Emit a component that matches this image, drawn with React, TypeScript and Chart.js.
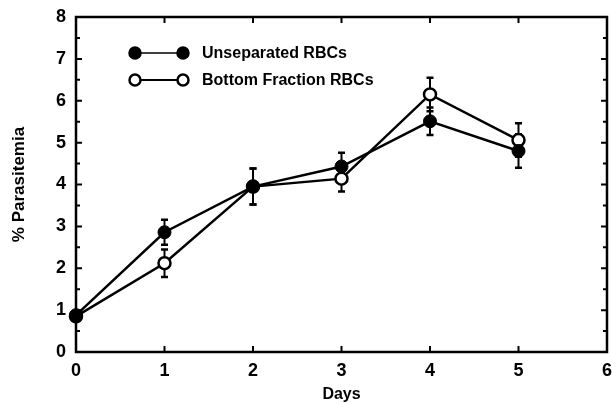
import React, { useEffect, useRef } from "react";
import { Chart, registerables } from "chart.js";
Chart.register(...registerables);

const days = [0, 1, 2, 3, 4, 5];
const unseparated = [0.88, 2.86, 3.95, 4.43, 5.51, 4.8];
const unseparatedErr = [0, 0.3, 0.43, 0.33, 0.33, 0.4];
const bottomFraction = [0.85, 2.12, 3.95, 4.14, 6.15, 5.06];
const bottomErr = [0, 0.33, 0.43, 0.31, 0.4, 0.4];
const seriesNames = ["Unseparated RBCs", "Bottom Fraction RBCs"];
const xTicks = [0, 1, 2, 3, 4, 5, 6];
const yTicks = [0, 1, 2, 3, 4, 5, 6, 7, 8];
const yMinorTicks = [0.5, 1.5, 2.5, 3.5, 4.5, 5.5, 6.5, 7.5];

const FONT = "'Liberation Sans', Arial, sans-serif";

const errorBarPlugin = {
  id: "errorBars",
  beforeDatasetsDraw(chart: any) {
    const ctx = chart.ctx;
    const xs = chart.scales.x;
    const ys = chart.scales.y;
    const errs = [unseparatedErr, bottomErr];
    const vals = [unseparated, bottomFraction];
    ctx.save();
    ctx.strokeStyle = "#000";
    ctx.lineCap = "butt";
    for (let s = 0; s < 2; s++) {
      for (let i = 0; i < days.length; i++) {
        if (!errs[s][i]) continue;
        const x = xs.getPixelForValue(days[i]);
        const yTop = ys.getPixelForValue(vals[s][i] + errs[s][i]);
        const yBot = ys.getPixelForValue(vals[s][i] - errs[s][i]);
        ctx.lineWidth = 2;
        ctx.beginPath();
        ctx.moveTo(x, yTop);
        ctx.lineTo(x, yBot);
        ctx.stroke();
        ctx.lineWidth = 2.5;
        ctx.beginPath();
        ctx.moveTo(x - 3.5, yTop);
        ctx.lineTo(x + 3.5, yTop);
        ctx.moveTo(x - 3.5, yBot);
        ctx.lineTo(x + 3.5, yBot);
        ctx.stroke();
      }
    }
    ctx.restore();
  },
};

const framePlugin = {
  id: "frame",
  afterDraw(chart: any) {
    const ctx = chart.ctx;
    const { left, right, top, bottom } = chart.chartArea;
    const xs = chart.scales.x;
    const ys = chart.scales.y;
    ctx.save();
    ctx.strokeStyle = "#000";
    ctx.lineWidth = 2.5;
    ctx.strokeRect(left, top, right - left, bottom - top);
    ctx.lineWidth = 2;
    ctx.beginPath();
    xTicks.forEach((v) => {
      const x = xs.getPixelForValue(v);
      ctx.moveTo(x, bottom);
      ctx.lineTo(x, bottom - 6);
      ctx.moveTo(x, top);
      ctx.lineTo(x, top + 6);
    });
    yTicks.forEach((v) => {
      const y = ys.getPixelForValue(v);
      ctx.moveTo(left, y);
      ctx.lineTo(left + 6, y);
      ctx.moveTo(right, y);
      ctx.lineTo(right - 6, y);
    });
    yMinorTicks.forEach((v) => {
      const y = ys.getPixelForValue(v);
      ctx.moveTo(left, y);
      ctx.lineTo(left + 4, y);
      ctx.moveTo(right, y);
      ctx.lineTo(right - 4, y);
    });
    ctx.stroke();
    ctx.restore();

    // legend
    ctx.save();
    const lx = left + 59;
    const rows = [top + 36, top + 63];
    rows.forEach((y, i) => {
      ctx.strokeStyle = "#000";
      ctx.lineWidth = i === 0 ? 1.5 : 2;
      ctx.beginPath();
      ctx.moveTo(lx, y);
      ctx.lineTo(lx + 48, y);
      ctx.stroke();
      [lx, lx + 48].forEach((cx) => {
        ctx.beginPath();
        ctx.arc(cx, y, 5.5, 0, Math.PI * 2);
        ctx.fillStyle = i === 0 ? "#000" : "#fff";
        ctx.fill();
        ctx.lineWidth = 2.5;
        ctx.stroke();
      });
      ctx.fillStyle = "#000";
      ctx.font = `bold 16px ${FONT}`;
      ctx.textBaseline = "middle";
      ctx.textAlign = "left";
      ctx.fillText(seriesNames[i], lx + 67, y + 1);
    });
    ctx.restore();
  },
};

export default function App() {
  const ref = useRef<HTMLCanvasElement>(null);
  useEffect(() => {
    document.body.style.margin = "0";
    const chart = new Chart(ref.current!, {
      type: "line",
      data: {
        datasets: [
          {
            label: seriesNames[0],
            data: days.map((d, i) => ({ x: d, y: unseparated[i] })),
            borderColor: "#000",
            backgroundColor: "#000",
            borderWidth: 2.5,
            pointRadius: 6.5,
            pointBorderWidth: 1,
            pointBackgroundColor: "#000",
            pointBorderColor: "#000",
            tension: 0,
            clip: false,
          },
          {
            label: seriesNames[1],
            data: days.map((d, i) => ({ x: d, y: bottomFraction[i] })),
            borderColor: "#000",
            backgroundColor: "#fff",
            borderWidth: 2.5,
            pointRadius: 6,
            pointBorderWidth: 2.5,
            pointBackgroundColor: "#fff",
            pointBorderColor: "#000",
            tension: 0,
            clip: false,
          },
        ],
      },
      options: {
        animation: false,
        responsive: false,
        layout: { autoPadding: false, padding: { left: 0, right: 5, top: 17, bottom: 0 } },
        plugins: { legend: { display: false }, tooltip: { enabled: false } },
        scales: {
          x: {
            type: "linear",
            min: 0,
            max: 6,
            grid: { display: false, drawTicks: false },
            border: { display: false },
            ticks: {
              stepSize: 1,
              color: "#000",
              padding: 8,
              font: { family: FONT, size: 18, weight: "bold" },
            },
            title: {
              display: true,
              text: "Days",
              color: "#000",
              padding: { top: 1, bottom: 0 },
              font: { family: FONT, size: 16, weight: "bold" },
            },
            afterFit(scale: any) {
              scale.height = 52;
              scale.paddingRight = 0;
              scale.paddingLeft = 0;
            },
          },
          y: {
            min: 0,
            max: 8,
            grid: { display: false, drawTicks: false },
            border: { display: false },
            ticks: {
              stepSize: 1,
              color: "#000",
              padding: 10,
              font: { family: FONT, size: 18, weight: "bold" },
            },
            title: {
              display: true,
              text: "% Parasitemia",
              color: "#000",
              padding: { top: 9, bottom: 4 },
              font: { family: FONT, size: 17, weight: "bold" },
            },
            afterFit(scale: any) {
              scale.width = 76;
              scale.paddingTop = 0;
              scale.paddingBottom = 0;
            },
          },
        },
      },
      plugins: [errorBarPlugin, framePlugin],
    });
    return () => chart.destroy();
  }, []);
  return (
    <div style={{ position: "absolute", left: 0, top: 0, width: 612, height: 404 }}>
      <canvas ref={ref} width={612} height={404} style={{ display: "block" }} />
    </div>
  );
}
